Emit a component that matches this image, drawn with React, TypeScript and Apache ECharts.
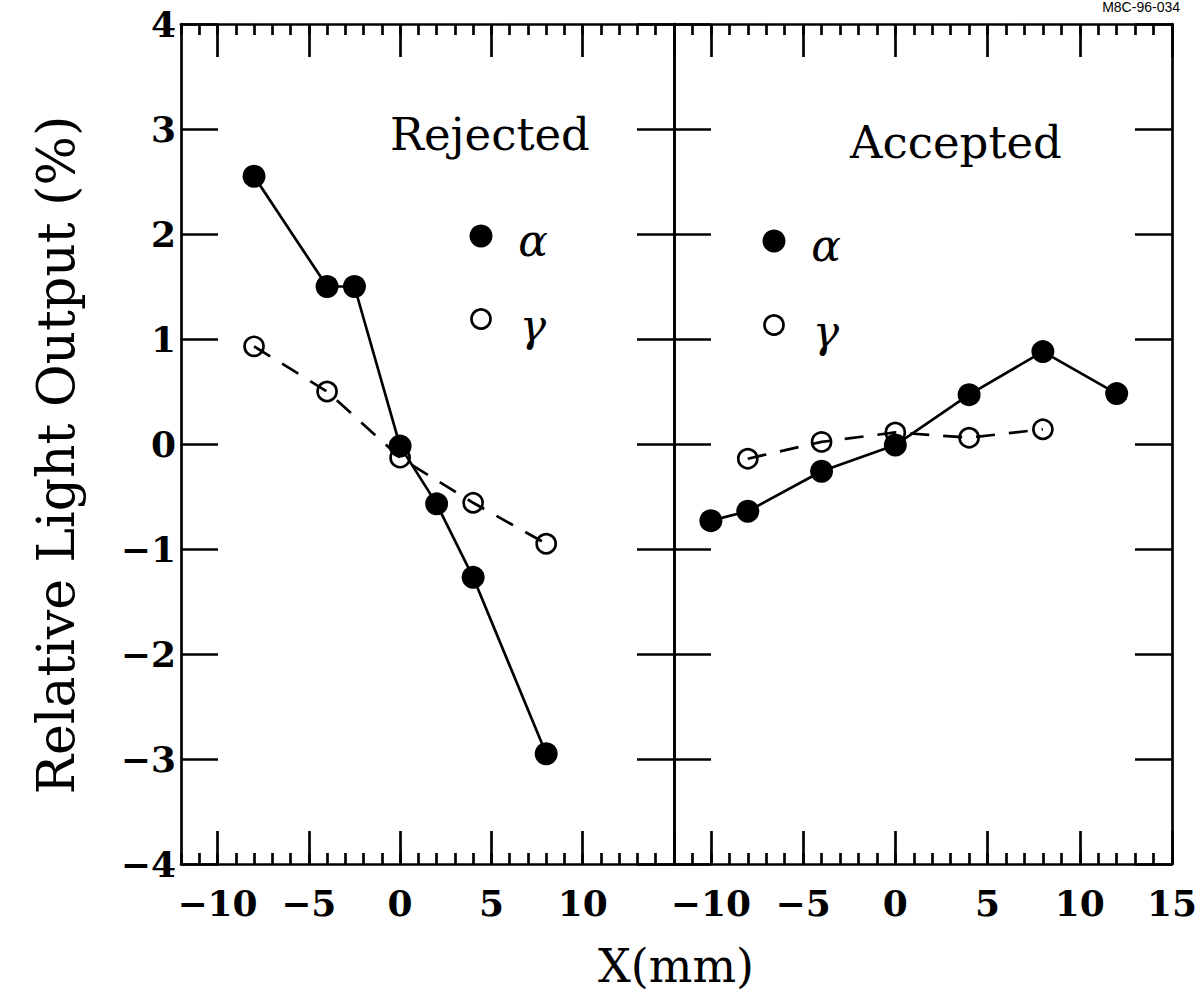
import React, { useEffect, useRef } from "react";
import * as echarts from "echarts";

// ---- data ----
const rejAlphaX = [-8, -4, -2.5, 0, 2, 4, 8];
const rejAlphaY = [2.55, 1.5, 1.5, -0.02, -0.57, -1.27, -2.95];
const rejGammaX = [-8, -4, 0, 4, 8];
const rejGammaY = [0.93, 0.5, -0.13, -0.56, -0.95];
const accAlphaX = [-10, -8, -4, 0, 4, 8, 12];
const accAlphaY = [-0.73, -0.64, -0.26, -0.01, 0.47, 0.88, 0.48];
const accGammaX = [-8, -4, 0, 4, 8];
const accGammaY = [-0.14, 0.02, 0.11, 0.06, 0.14];

const xMin = -12;
const xMax = 15;
const yMin = -4;
const yMax = 4;
const leftXLabels = [-10, -5, 0, 5, 10];
const rightXLabels = [-10, -5, 0, 5, 10, 15];
const xMajorTicks = [-10, -5, 0, 5, 10, 15];
const panelTitles = ["Rejected", "Accepted"];
const yTitle = "Relative Light Output (%)";
const xTitle = "X(mm)";
const figureId = "M8C-96-034";

const pairs = (xs: number[], ys: number[]) => xs.map((x, i) => [x, ys[i]]);
const fmt = (v: number) => String(v).replace("-", "\u2212");

const SERIF = "DejaVu Serif";
const LW = 2.7;

function buildXAxes(gridIndex: number, labels: number[]) {
  const base = {
    gridIndex,
    type: "value",
    min: xMin,
    max: xMax,
    splitLine: { show: false },
  };
  return [
    {
      ...base,
      position: "bottom",
      axisLine: { show: true, onZero: false, lineStyle: { color: "#000", width: LW } },
      axisTick: {
        show: true,
        inside: true,
        length: 33,
        customValues: xMajorTicks,
        lineStyle: { color: "#000", width: LW },
      },
      axisLabel: {
        show: true,
        customValues: labels,
        formatter: fmt,
        color: "#000",
        fontFamily: SERIF,
        fontWeight: "bold",
        fontSize: 36,
        margin: 21,
      },
    },
    {
      ...base,
      position: "bottom",
      interval: 1,
      axisLine: { show: false, onZero: false },
      axisTick: { show: true, inside: true, length: 11, lineStyle: { color: "#000", width: LW } },
      axisLabel: { show: false },
    },
    {
      ...base,
      position: "top",
      axisLine: { show: true, onZero: false, lineStyle: { color: "#000", width: LW } },
      axisTick: {
        show: true,
        inside: true,
        length: 33,
        customValues: xMajorTicks,
        lineStyle: { color: "#000", width: LW },
      },
      axisLabel: { show: false },
    },
    {
      ...base,
      position: "top",
      interval: 1,
      axisLine: { show: false, onZero: false },
      axisTick: { show: true, inside: true, length: 11, lineStyle: { color: "#000", width: LW } },
      axisLabel: { show: false },
    },
  ];
}

function buildYAxes(gridIndex: number, showLabels: boolean) {
  const base = {
    gridIndex,
    type: "value",
    min: yMin,
    max: yMax,
    interval: 1,
    splitLine: { show: false },
  };
  return [
    {
      ...base,
      position: "left",
      axisLine: { show: true, onZero: false, lineStyle: { color: "#000", width: LW } },
      axisTick: { show: true, inside: true, length: 37, lineStyle: { color: "#000", width: LW } },
      axisLabel: {
        show: showLabels,
        formatter: fmt,
        color: "#000",
        fontFamily: SERIF,
        fontWeight: "bold",
        fontSize: 36,
        margin: 5,
      },
    },
    {
      ...base,
      position: "right",
      axisLine: { show: true, onZero: false, lineStyle: { color: "#000", width: LW } },
      axisTick: { show: true, inside: true, length: 37, lineStyle: { color: "#000", width: LW } },
      axisLabel: { show: false },
    },
  ];
}

function alphaSeries(xAxisIndex: number, yAxisIndex: number, data: number[][]) {
  return {
    type: "line",
    xAxisIndex,
    yAxisIndex,
    data,
    symbol: "circle",
    symbolSize: 23,
    itemStyle: { color: "#000" },
    lineStyle: { color: "#000", width: LW, type: "solid" },
    z: 3,
  };
}

function gammaSeries(xAxisIndex: number, yAxisIndex: number, data: number[][]) {
  return {
    type: "line",
    xAxisIndex,
    yAxisIndex,
    data,
    symbol: "circle",
    symbolSize: 19,
    itemStyle: { color: "rgba(0,0,0,0)", borderColor: "#000", borderWidth: LW },
    lineStyle: { color: "#000", width: LW, type: [19, 14] },
    z: 2,
  };
}

function legendItems(mx: number, ay: number, gy: number, tx: number) {
  return [
    { type: "circle", shape: { cx: mx, cy: ay, r: 11.5 }, style: { fill: "#000" } },
    { type: "circle", shape: { cx: mx, cy: gy, r: 9.5 }, style: { fill: "none", stroke: "#000", lineWidth: LW } },
    {
      type: "text",
      x: tx,
      y: ay + 4,
      style: { text: "\u03B1", font: `italic 44px ${SERIF}`, fill: "#000", align: "center", verticalAlign: "middle" },
    },
    {
      type: "text",
      x: tx,
      y: gy + 6,
      style: { text: "\u03B3", font: `italic 44px ${SERIF}`, fill: "#000", align: "center", verticalAlign: "middle" },
    },
  ];
}

export default function App() {
  const ref = useRef<HTMLDivElement>(null);
  useEffect(() => {
    if (!ref.current) return;
    const chart = echarts.init(ref.current, undefined, { renderer: "svg" });
    const option: any = {
      animation: false,
      backgroundColor: "#fff",
      grid: [
        { left: 181, top: 24, width: 493, height: 840 },
        { left: 674, top: 24, width: 498, height: 840 },
      ],
      xAxis: [...buildXAxes(0, leftXLabels), ...buildXAxes(1, rightXLabels)],
      yAxis: [...buildYAxes(0, true), ...buildYAxes(1, false)],
      series: [
        gammaSeries(0, 0, pairs(rejGammaX, rejGammaY)),
        alphaSeries(0, 0, pairs(rejAlphaX, rejAlphaY)),
        gammaSeries(4, 2, pairs(accGammaX, accGammaY)),
        alphaSeries(4, 2, pairs(accAlphaX, accAlphaY)),
      ],
      graphic: [
        {
          type: "text",
          x: 490,
          y: 134,
          style: { text: panelTitles[0], font: `45px ${SERIF}`, fill: "#000", align: "center", verticalAlign: "middle" },
        },
        {
          type: "text",
          x: 956,
          y: 142,
          style: { text: panelTitles[1], font: `45px ${SERIF}`, fill: "#000", align: "center", verticalAlign: "middle" },
        },
        ...legendItems(481, 236, 319, 533),
        ...legendItems(774, 241, 325, 826),
        {
          type: "text",
          x: 56,
          y: 455,
          rotation: Math.PI / 2,
          style: { text: yTitle, font: `52px ${SERIF}`, fill: "#000", align: "center", verticalAlign: "middle" },
        },
        {
          type: "text",
          x: 676,
          y: 966,
          style: { text: xTitle, font: `46px ${SERIF}`, fill: "#000", align: "center", verticalAlign: "middle" },
        },
        {
          type: "text",
          x: 1180,
          y: 0,
          style: { text: figureId, font: `14px "Liberation Sans"`, fill: "#000", align: "right", verticalAlign: "top" },
        },
      ],
    };
    chart.setOption(option);
    return () => chart.dispose();
  }, []);
  return (
    <div
      ref={ref}
      style={{ position: "fixed", left: 0, top: 0, width: 1204, height: 995, background: "#fff" }}
    />
  );
}
